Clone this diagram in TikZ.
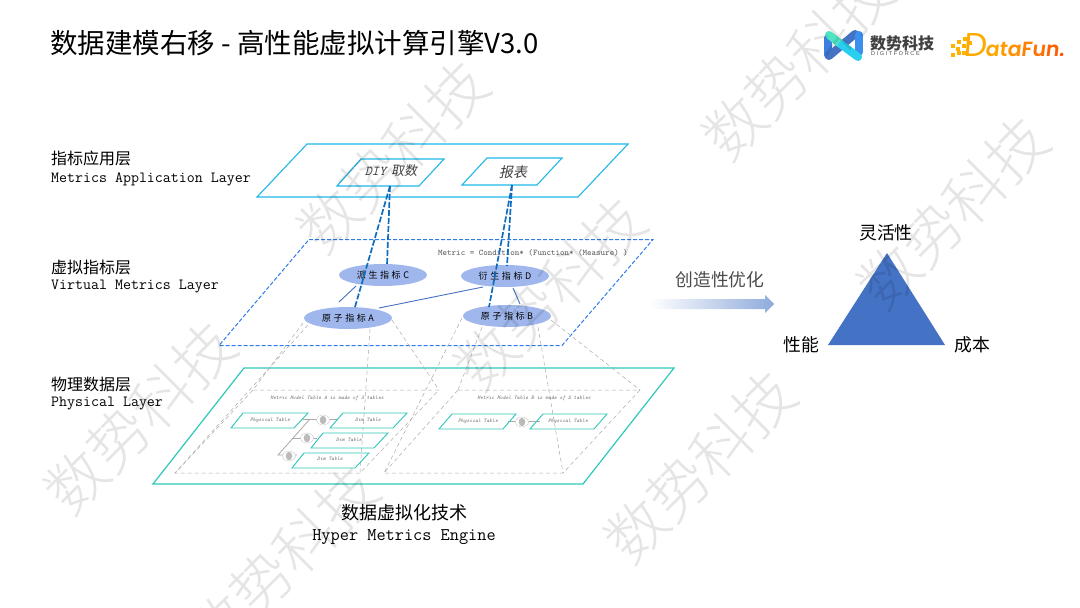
\documentclass[tikz,border=0pt]{standalone}
\usepackage{fontspec}
\setmainfont{Noto Sans CJK SC}
\newfontfamily\lat{Liberation Sans}
\newfontfamily\dfun[FakeSlant=0.12]{Poppins SemiBold}
\newfontfamily\dfunr[FakeSlant=0.08]{Poppins}
\newfontfamily\cjkit[FakeSlant=0.2]{Noto Sans CJK SC}
\newfontfamily\wmf[UprightFont={* Light}]{Noto Sans CJK SC}
\usetikzlibrary{shapes.geometric}
\newcommand{\fsz}[1]{\fontsize{#1}{#1}\selectfont}
\newcommand{\wm}[2]{\node[wmark] (#1) at (#2) {数势科技};}
\newcommand{\gp}{\hspace{2.6pt}}
\definecolor{cyanl}{HTML}{1FB8E8}
\definecolor{tealp}{HTML}{2EC8B8}
\definecolor{dashb}{HTML}{2F7BEA}
\definecolor{linkb}{HTML}{0F6CBF}
\definecolor{solb}{HTML}{4472C4}
\definecolor{ellb}{HTML}{9FB7EC}
\definecolor{gr}{HTML}{AAAAAA}
\definecolor{dforange}{HTML}{FFAA00}
\definecolor{rib1}{HTML}{3D7EE0}
\definecolor{rib2}{HTML}{3A8FEF}
\definecolor{rib3}{HTML}{4DE3C4}
\definecolor{rib4}{HTML}{28CFEF}
\tikzset{
 topl/.style={draw=cyanl,line width=1.1pt,line join=miter},
 virt/.style={draw=dashb,line width=1pt,dash pattern=on 4pt off 2pt},
 phys/.style={draw=tealp,line width=1.2pt},
 guide/.style={draw=gr,line width=.5pt,dash pattern=on 4pt off 3pt},
 linkd/.style={draw=linkb,line width=1.7pt,dash pattern=on 6pt off 2pt},
 sol/.style={draw=solb,line width=.9pt},
 met/.style={ellipse,fill=ellb,minimum width=88pt,minimum height=22pt,inner sep=0pt,font=\fsz{9},text=black},
 lab/.style={anchor=west,align=left,inner sep=0pt,text=black},
 monot/.style={font=\ttfamily\fsz{15.5}},
 tinyt/.style={font=\ttfamily\itshape\fsz{5.4},text=black!60,inner sep=0pt},
 jline/.style={draw=gr,line width=.8pt},
 wmark/.style={rotate=45,font=\wmf\fsz{60},text=black,text opacity=.10,inner sep=0pt},
 ribbon/.style={line width=8pt,line cap=round},
}
\begin{document}
\begin{tikzpicture}[x=1pt,y=-1pt]
\path[use as bounding box,fill=white] (0,0) rectangle (1080,608);

% named points
\coordinate (diyB) at (390,186); \coordinate (repB) at (512,185);
\coordinate (tA1) at (253,390); \coordinate (tA2) at (439,390); \coordinate (tA3) at (360,473); \coordinate (tA4) at (175,473);
\coordinate (tB1) at (458,390); \coordinate (tB2) at (640,390); \coordinate (tB3) at (563,473); \coordinate (tB4) at (384,473);

% title
\node[lab] (title) at (50,43) {\fsz{27.5}数据建模右移 - 高性能虚拟计算引擎V3.0};

% layer labels
\node[lab] (l1a) at (51,158) {\fsz{16}指标应用层};
\node[lab,monot] (l1b) at (51,179) {Metrics Application Layer};
\node[lab] (l2a) at (51,267) {\fsz{16}虚拟指标层};
\node[lab,monot] (l2b) at (51,287) {Virtual Metrics Layer};
\node[lab] (l3a) at (51,384) {\fsz{16}物理数据层};
\node[lab,monot] (l3b) at (51,404) {Physical Layer};

% planes
\draw[topl] (307,144) -- (628,144) -- (578,197) -- (257,197) -- cycle;
\draw[topl] (361,159) -- (444,159) -- (419,186) -- (337,186) -- cycle;
\draw[topl] (487,158) -- (562,158) -- (537,185) -- (462,185) -- cycle;
\draw[virt] (309,239.5) -- (653,239.5) -- (562,345.5) -- (219,345.5) -- cycle;
\draw[phys] (244,368) -- (674,368) -- (583,484) -- (153,484) -- cycle;

\node[text=black!75,inner sep=0pt] (diy) at (391,171) {{\ttfamily\itshape\fsz{13.5}DIY}\hspace{5pt}{\cjkit\fsz{13}取数}};
\node[text=black!75,inner sep=0pt] (rep) at (513,172) {\cjkit\fsz{14}报表};
\node[font=\ttfamily\fsz{8.6},text=black!65,inner sep=0pt] (formula) at (533,253) {Metric = Condition* (Function* (Measure) )};

% metric ellipses
\node[met] (mC) at (383,275) {派\gp 生\gp 指\gp 标\gp C};
\node[met] (mD) at (505,276) {衍\gp 生\gp 指\gp 标\gp D};
\node[met] (mA) at (348,318) {原\gp 子\gp 指\gp 标\gp A};
\node[met] (mB) at (507,316) {原\gp 子\gp 指\gp 标\gp B};

% links
\coordinate (c1) at (356,286); \coordinate (c2) at (339,302);
\coordinate (d1) at (483,287); \coordinate (d2) at (379,308);
\coordinate (e1) at (513,288); \coordinate (e2) at (520,304);
\draw[sol] (c1) -- (c2);
\draw[sol] (d1) -- (d2);
\draw[sol] (e1) -- (e2);
\coordinate (aT) at (355,307); \coordinate (cT) at (387,265); \coordinate (bT) at (489,307); \coordinate (dT) at (507,266);
\draw[linkd] (diyB) -- (aT);
\draw[linkd] (diyB) -- (cT);
\draw[linkd] (repB) -- (bT);
\draw[linkd] (repB) -- (dT);

% projection guides
\draw[guide] (tA1) -- (tA2) -- (tA3) -- (tA4) -- cycle;
\draw[guide] (tB1) -- (tB2) -- (tB3) -- (tB4) -- cycle;
\draw[guide] (303,323) -- (tA1);
\draw[guide] (308,325) -- (tA4);
\draw[guide] (370,329) -- (tA3);
\draw[guide] (392,320) -- (tA2);
\draw[guide] (462,318) -- (tB4);
\draw[guide] (482,327) -- (tB1);
\draw[guide] (538,327) -- (tB3);
\draw[guide] (551,320) -- (tB2);

\node[tinyt] (capA) at (327,398) {Metric Model Table A is made of 3 tables};
\node[tinyt] (capB) at (534,398) {Metric Model Table B is made of 2 tables};

% small joins
\draw[jline] (303,419) -- (337,419);
\draw[jline] (310,419) -- (278,455) -- (297,455);
\draw[jline] (292,438) -- (317,438);
\draw[jline] (508,421) -- (540,421);
\foreach \n/\x/\y in {ja/323/420, jb/307/438, jc/289/456, jd/522/422}{
  \node[ellipse,draw=gr!60,fill=white,line width=.4pt,minimum width=13pt,minimum height=10pt,inner sep=0pt] (\n o) at (\x,\y) {};
  \node[ellipse,fill=gr!80,minimum width=6.5pt,minimum height=8.5pt,inner sep=0pt] (\n) at (\x,\y) {};
}
% small tables
\foreach \a/\b/\c/\d/\yy in {243/308/294/231/413, 343/407/393/330/413, 323/388/374/311/433, 304/369/355/292/453, 452/516/503/439/414, 543/607/594/530/414}{
  \draw[phys,line width=.9pt] (\a,\yy) -- (\b,\yy) -- (\c,\yy+15) -- (\d,\yy+15) -- cycle;
}
\node[tinyt] (p1) at (270,420) {Physical Table};
\node[tinyt] (d1n) at (368,420) {Dim Table};
\node[tinyt] (d2n) at (349,440) {Dim Table};
\node[tinyt] (d3n) at (330,459) {Dim Table};
\node[tinyt] (p2) at (478,421) {Physical Table};
\node[tinyt] (p3) at (568,421) {Physical Table};

% bottom caption
\node[inner sep=0pt] (cap1) at (404,513) {\fsz{18}数据虚拟化技术};
\node[inner sep=0pt,font=\ttfamily\fsz{17.8}] (cap2) at (404,537) {Hyper Metrics Engine};

% arrow
\node[inner sep=0pt,text=black!70] (opt) at (720,280) {\fsz{17.8}创造性优化};
\shade[left color=white,right color=solb!60] (650,299) -- (765,299) -- (765,295) -- (774,304) -- (765,313) -- (765,309) -- (650,309) -- cycle;

% triangle
\node[inner sep=0pt] (tr1) at (886,233) {\fsz{17.8}灵活性};
\node[inner sep=0pt] (tr2) at (801,345) {\fsz{17.8}性能};
\node[inner sep=0pt] (tr3) at (972,345) {\fsz{17.8}成本};
\fill[solb] (887,253) -- (945,345) -- (828,345) -- cycle;

% logos
\draw[ribbon,draw=rib1] (828,38) -- (828,55);
\draw[ribbon,draw=solb] (829,56) -- (855,34);
\draw[ribbon,draw=rib2] (859,35) -- (859,52);
\draw[ribbon,draw=rib3] (829,35) -- (842,45);
\draw[ribbon,draw=rib4] (842,45) -- (858,57);
\node[lab,text=black!75] (lg1) at (870,43) {\fsz{16}\bfseries 数势科技};
\node[lab,text=black!70] (lg2) at (871,54) {\lat\fsz{5.6}D I G I T F O R C E};
\foreach \x/\y in {951/44,957/40,963/37,956/47,962/44,968/41,951/53,957/51,962/51}{
  \fill[orange!60!yellow] (\x,\y) rectangle +(3.6,3.6);
}
\node[anchor=base west,inner sep=0pt,text=dforange] (lg3) at (963,56) {\dfunr\fsz{33}D};
\node[anchor=base west,inner sep=0pt] (lg4) at (985,56) {\dfun\fsz{20.5}\textcolor[HTML]{FFA500}{a}\textcolor[HTML]{FF9A00}{t}\textcolor[HTML]{FF9000}{a}\textcolor[HTML]{FF8000}{F}\textcolor[HTML]{FF7000}{u}\textcolor[HTML]{FF6000}{n}\textcolor[HTML]{FF5000}{.}};

% watermarks
\wm{w1}{393,157}
\wm{w2}{140,418}
\wm{w3}{283,562}
\wm{w4}{550,294}
\wm{w5}{798,64}
\wm{w6}{953,213}
\wm{w7}{700,467}
\end{tikzpicture}
\end{document}
